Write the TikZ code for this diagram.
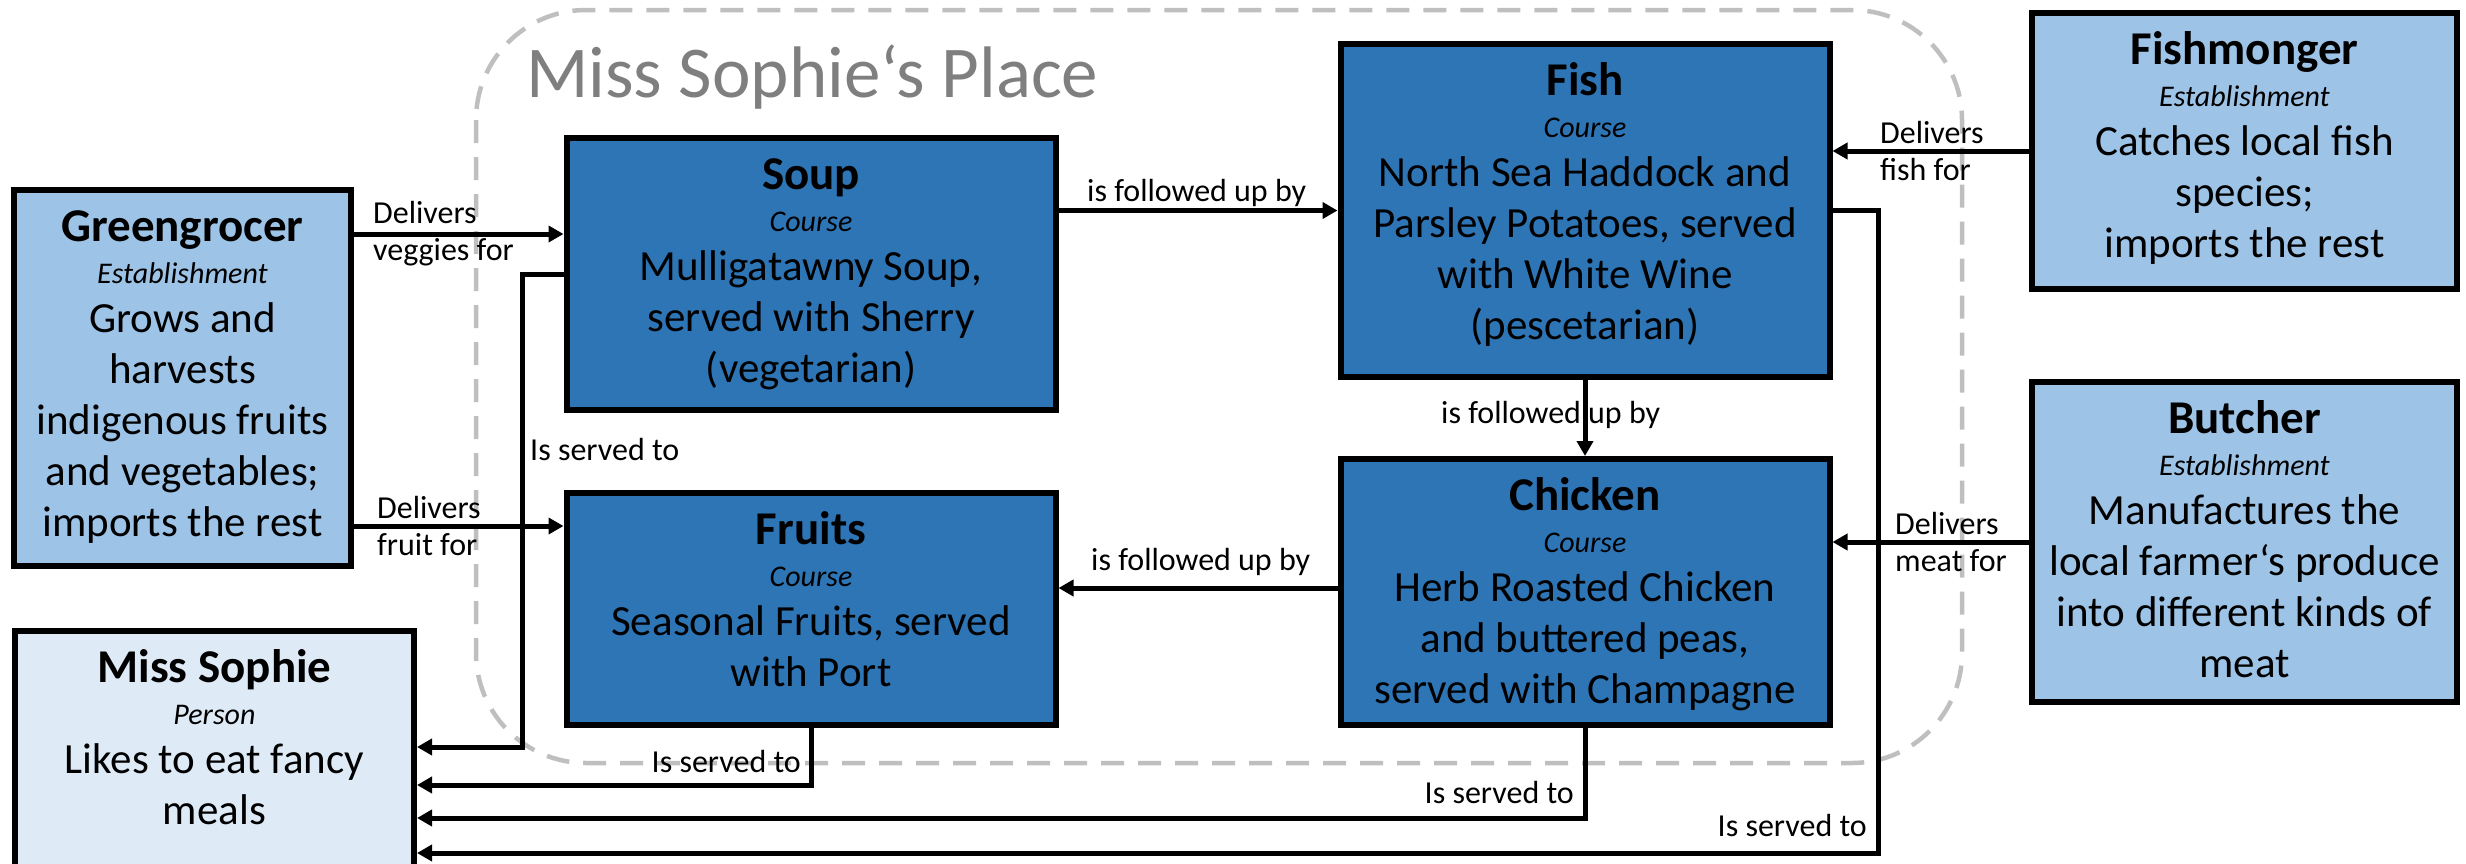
\documentclass[tikz,border=0pt]{standalone}
\usepackage{fontspec}
\setmainfont{Carlito}
\usetikzlibrary{arrows.meta}

\definecolor{coursebl}{HTML}{2E75B6}
\definecolor{estabbl}{HTML}{9DC3E6}
\definecolor{personbl}{HTML}{DEEBF7}
\definecolor{placegr}{HTML}{BFBFBF}
\definecolor{titlegr}{HTML}{7F7F7F}

\tikzset{
  entity/.style={draw=black, line width=6pt, inner sep=0pt},
  course/.style={entity, fill=coursebl, minimum width=489pt},
  estab/.style={entity, fill=estabbl, minimum width=425pt},
  person/.style={entity, fill=personbl},
  txt/.style={align=center, inner sep=0pt, anchor=north, font=\fontsize{43}{51}\selectfont},
  rel/.style={line width=5pt, -{Triangle[length=15pt,width=16pt]}},
  lbl/.style={inner sep=0pt, font=\fontsize{32}{37}\selectfont},
  place/.style={draw=placegr, line width=4.5pt, dash pattern=on 23pt off 14pt, rounded corners=110pt}
}
\newcommand{\ename}[1]{{\fontsize{47}{51}\selectfont\bfseries\rule{0pt}{35pt}#1}\\[-9pt]}
\newcommand{\etype}[1]{{\fontsize{30}{51}\selectfont\itshape #1}\\[-2.5pt]}

\begin{document}
\begin{tikzpicture}[x=1pt,y=-1pt]
            \useasboundingbox (0,0) rectangle (2466,863);
            % the restaurant
            \draw[place] (476,10) rectangle (1962,763);
            \node[anchor=base west, inner sep=0pt, text=titlegr, font=\fontsize{73}{80}\selectfont] (placetitle) at (526,97) {Miss Sophie‘s Place};

            \node[estab, minimum width=337pt, minimum height=376pt] (greengrocer) at (182.5,378) {};
            \node[person, minimum width=399pt, minimum height=238pt] (misssophie) at (214.5,750) {};
            \node[course, minimum height=272pt] (soup) at (811,274) {};
            \node[course, minimum height=232pt] (fruits) at (811,609) {};
            \node[course, minimum height=333pt] (fish) at (1585,210.5) {};
            \node[course, minimum height=266pt] (chicken) at (1585,592) {};
            \node[estab, minimum height=276pt] (fishmonger) at (2244.5,151) {};
            \node[estab, minimum height=320pt] (butcher) at (2244.5,542) {};

            \node[txt] (greengrocer-txt) at ([yshift=-19.5pt]greengrocer.north) {\ename{Greengrocer}\etype{Establishment}Grows and\\harvests\\indigenous fruits\\and vegetables;\\imports the rest};
            \node[txt] (misssophie-txt) at ([yshift=-19.5pt]misssophie.north) {\ename{Miss Sophie}\etype{Person}Likes to eat fancy\\meals};
            \node[txt] (soup-txt) at ([yshift=-19.5pt]soup.north) {\ename{Soup}\etype{Course}Mulligatawny Soup,\\served with Sherry\\(vegetarian)};
            \node[txt] (fruits-txt) at ([yshift=-19.5pt]fruits.north) {\ename{Fruits}\etype{Course}Seasonal Fruits, served\\with Port};
            \node[txt] (fish-txt) at ([yshift=-19.5pt]fish.north) {\ename{Fish}\etype{Course}North Sea Haddock and\\Parsley Potatoes, served\\with White Wine\\(pescetarian)};
            \node[txt] (chicken-txt) at ([yshift=-19.5pt]chicken.north) {\ename{Chicken}\etype{Course}Herb Roasted Chicken\\and buttered peas,\\served with Champagne};
            \node[txt] (fishmonger-txt) at ([yshift=-19.5pt]fishmonger.north) {\ename{Fishmonger}\etype{Establishment}Catches local fish\\species;\\imports the rest};
            \node[txt] (butcher-txt) at ([yshift=-19.5pt]butcher.north) {\ename{Butcher}\etype{Establishment}Manufactures the\\local farmer‘s produce\\into different kinds of\\meat};

            % deliveries
            \draw[rel] (greengrocer.east |- 0,234) -- (soup.west |- 0,234);
            \node[lbl, anchor=west, align=left] (veggies) at (373,234) {Delivers\\veggies for};
            \draw[rel] (greengrocer.east |- 0,526) -- (fruits.west |- 0,526);
            \node[lbl, anchor=west, align=left] (fruitfor) at (377,526) {Delivers\\fruit for};
            \draw[rel] (fishmonger.west) -- (fishmonger.west -| fish.east);
            \node[lbl, anchor=west, align=left] (fishfor) at (1880,151) {Delivers\\fish for};
            \draw[rel] (butcher.west) -- (butcher.west -| chicken.east);
            \node[lbl, anchor=west, align=left] (meatfor) at (1895,542) {Delivers\\meat for};

            % order of courses
            \draw[rel] (soup.east |- fish.west) -- (fish.west);
            \node[lbl, anchor=base west] (soupfish) at (1087,201) {is followed up by};
            \draw[rel] (fish.south) -- (chicken.north);
            \node[lbl, anchor=base west] (fishchicken) at (1441,423) {is followed up by};
            \draw[rel] (chicken.west |- 0,588) -- (fruits.east |- 0,588);
            \node[lbl, anchor=base west] (chickenfruits) at (1091,570) {is followed up by};

            % served to Miss Sophie
            \draw[rel] (soup.west) -- ++(-41,0) |- (misssophie.east |- 0,747);
            \node[lbl, anchor=base west] (soupserved) at (530,460) {Is served to};
            \draw[rel] (fruits.south) |- (misssophie.east |- 0,785);
            \node[lbl, anchor=base east] (fruitsserved) at (801,772) {Is served to};
            \draw[rel] (chicken.south) |- (misssophie.east |- 0,818);
            \node[lbl, anchor=base east] (chickenserved) at (1574,803) {Is served to};
            \draw[rel] (fish.east) -- ++(46,0) |- (misssophie.east |- 0,853);
            \node[lbl, anchor=base east] (fishserved) at (1867,836) {Is served to};
\end{tikzpicture}
\end{document}
